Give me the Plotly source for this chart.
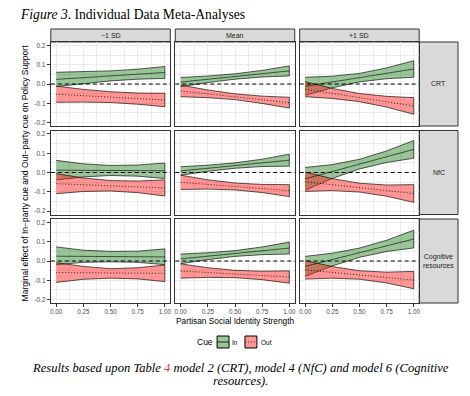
import plotly.graph_objects as go

# The page body has an 8px margin, so the figure is drawn 8px in from the window corner.
OX, OY = 8, 8
W, H = 454, 380

# ---------------- data ----------------
x_vals = [0.0, 0.25, 0.5, 0.75, 1.0]
x_ticks = [0.0, 0.25, 0.5, 0.75, 1.0]
x_tick_labels = ["0.00", "0.25", "0.50", "0.75", "1.00"]
y_ticks = [-0.2, -0.1, 0.0, 0.1, 0.2]
y_tick_labels = ["-0.2", "-0.1", "0.0", "0.1", "0.2"]
levels = ["\u22121 SD", "Mean", "+1 SD"]
moderators = ["CRT", "NfC", "Cognitive<br>resources"]
cues = ["In", "Out"]

# CRT (one list per level: -1 SD, Mean, +1 SD)
crt_in_mean = [[0.024, 0.033, 0.042, 0.051, 0.060],
               [0.010, 0.0245, 0.039, 0.0535, 0.068],
               [-0.012, 0.0105, 0.033, 0.0555, 0.078]]
crt_in_lo = [[-0.013, 0.003, 0.016, 0.025, 0.029],
             [-0.014, 0.0075, 0.025, 0.0365, 0.042],
             [-0.059, -0.0195, 0.011, 0.0275, 0.035]]
crt_in_hi = [[0.061, 0.063, 0.068, 0.077, 0.091],
             [0.034, 0.0415, 0.053, 0.0705, 0.094],
             [0.035, 0.0405, 0.055, 0.0835, 0.121]]
crt_out_mean = [[-0.053, -0.0605, -0.068, -0.0755, -0.083],
                [-0.036, -0.051, -0.066, -0.082, -0.097],
                [-0.027, -0.049, -0.0705, -0.092, -0.114]]
crt_out_lo = [[-0.095, -0.094, -0.096, -0.105, -0.118],
              [-0.066, -0.071, -0.081, -0.101, -0.125],
              [-0.066, -0.075, -0.0915, -0.120, -0.157]]
crt_out_hi = [[-0.011, -0.028, -0.040, -0.047, -0.048],
              [-0.006, -0.031, -0.051, -0.063, -0.069],
              [0.012, -0.023, -0.0495, -0.064, -0.071]]

# NfC
nfc_in_mean = [[0.012, 0.011, 0.0105, 0.010, 0.009],
               [0.008, 0.022, 0.036, 0.050, 0.064],
               [-0.033, 0.005, 0.0435, 0.082, 0.120]]
nfc_in_lo = [[-0.039, -0.023, -0.0155, -0.019, -0.031],
             [-0.014, 0.006, 0.022, 0.031, 0.033],
             [-0.092, -0.031, 0.0185, 0.052, 0.074]]
nfc_in_hi = [[0.063, 0.045, 0.0365, 0.039, 0.049],
             [0.030, 0.038, 0.050, 0.069, 0.095],
             [0.026, 0.041, 0.0685, 0.112, 0.166]]
nfc_out_mean = [[-0.058, -0.0635, -0.069, -0.0745, -0.080],
                [-0.051, -0.062, -0.0725, -0.083, -0.094],
                [-0.048, -0.063, -0.0785, -0.094, -0.109]]
nfc_out_lo = [[-0.110, -0.0985, -0.096, -0.1045, -0.122],
              [-0.088, -0.086, -0.0905, -0.104, -0.125],
              [-0.098, -0.094, -0.1015, -0.123, -0.155]]
nfc_out_hi = [[-0.006, -0.0285, -0.042, -0.0445, -0.038],
              [-0.014, -0.038, -0.0545, -0.062, -0.063],
              [0.002, -0.032, -0.0555, -0.065, -0.063]]

# Cognitive resources
cog_in_mean = [[0.025, 0.024, 0.023, 0.022, 0.021],
               [0.011, 0.025, 0.039, 0.053, 0.067],
               [-0.028, 0.0075, 0.043, 0.0785, 0.114]]
cog_in_lo = [[-0.019, -0.007, -0.004, -0.007, -0.019],
             [-0.014, 0.007, 0.024, 0.033, 0.036],
             [-0.080, -0.0255, 0.019, 0.0495, 0.068]]
cog_in_hi = [[0.073, 0.056, 0.050, 0.051, 0.063],
             [0.036, 0.043, 0.054, 0.073, 0.098],
             [0.024, 0.0405, 0.067, 0.1075, 0.160]]
cog_out_mean = [[-0.060, -0.061, -0.062, -0.063, -0.064],
                [-0.052, -0.0598, -0.0675, -0.0753, -0.083],
                [-0.046, -0.059, -0.0725, -0.086, -0.099]]
cog_out_lo = [[-0.111, -0.095, -0.089, -0.093, -0.107],
              [-0.089, -0.085, -0.0865, -0.097, -0.115],
              [-0.094, -0.089, -0.0945, -0.114, -0.144]]
cog_out_hi = [[-0.009, -0.028, -0.040, -0.035, -0.021],
              [-0.015, -0.035, -0.0485, -0.053, -0.051],
              [0.002, -0.029, -0.0505, -0.058, -0.054]]

panel_data = [
    (crt_in_mean, crt_in_lo, crt_in_hi, crt_out_mean, crt_out_lo, crt_out_hi),
    (nfc_in_mean, nfc_in_lo, nfc_in_hi, nfc_out_mean, nfc_out_lo, nfc_out_hi),
    (cog_in_mean, cog_in_lo, cog_in_hi, cog_out_mean, cog_out_lo, cog_out_hi),
]

# ---------------- styling ----------------
GREEN_FILL = "rgba(0,110,0,0.40)"
RED_FILL = "rgba(255,20,20,0.45)"
EDGE = "rgba(0,0,0,0.8)"
BORDER = "#333333"
STRIP = "#D9D9D9"
GRID = "#EBEBEB"
SANS = "Liberation Sans, Arial, sans-serif"
SERIF = "Liberation Serif, Times New Roman, serif"
DOTTED = "1px,2px"
ZERO_DASH = "4px,3px"

# positions in window pixels
col_px = [(50, 170), (175, 295), (300, 420)]
row_px = [(42, 126), (130.5, 214.5), (219, 303)]


def px(x):
    return (x - OX) / W


def py(y):
    return 1 - (y - OY) / H


fig = go.Figure()
layout_axes = {}
shapes = []
annotations = []

for r in range(3):
    for c in range(3):
        n = r * 3 + c + 1
        xa = "x" if n == 1 else f"x{n}"
        ya = "y" if n == 1 else f"y{n}"
        in_m, in_lo, in_hi, out_m, out_lo, out_hi = panel_data[r]
        # ribbons
        for lo, hi, fillc in ((in_lo[c], in_hi[c], GREEN_FILL), (out_lo[c], out_hi[c], RED_FILL)):
            fig.add_trace(go.Scatter(
                x=x_vals + x_vals[::-1], y=hi + lo[::-1],
                fill="toself", fillcolor=fillc, mode="lines",
                line=dict(color=EDGE, width=0.8),
                xaxis=xa, yaxis=ya, showlegend=False, hoverinfo="skip"))
        fig.add_trace(go.Scatter(
            x=x_vals, y=in_m[c], mode="lines",
            line=dict(color="rgba(0,0,0,0.75)", width=0.8),
            xaxis=xa, yaxis=ya, showlegend=False))
        fig.add_trace(go.Scatter(
            x=x_vals, y=out_m[c], mode="lines",
            line=dict(color="rgba(0,0,0,0.8)", width=1, dash=DOTTED),
            xaxis=xa, yaxis=ya, showlegend=False))

        x0, x1 = col_px[c]
        y0, y1 = row_px[r]
        xkey = "xaxis" if n == 1 else f"xaxis{n}"
        ykey = "yaxis" if n == 1 else f"yaxis{n}"
        layout_axes[xkey] = dict(
            domain=[px(x0), px(x1)], anchor=ya, range=[-0.05, 1.05],
            tickvals=x_ticks, ticktext=x_tick_labels,
            showticklabels=(r == 2), ticks="outside" if r == 2 else "",
            ticklen=2.5, tickcolor=BORDER, tickwidth=1,
            tickfont=dict(family=SANS, size=6.3, color="#4D4D4D"),
            showgrid=True, gridcolor=GRID, gridwidth=1, zeroline=False,
            showline=True, mirror=True, linecolor=BORDER, linewidth=1,
            minor=dict(tick0=0, dtick=0.125, showgrid=True, gridcolor=GRID, gridwidth=0.5),
        )
        layout_axes[ykey] = dict(
            domain=[py(y1), py(y0)], anchor=xa, range=[-0.218, 0.218],
            tickvals=y_ticks, ticktext=y_tick_labels,
            showticklabels=(c == 0), ticks="outside" if c == 0 else "",
            ticklen=3, tickcolor=BORDER, tickwidth=1,
            tickfont=dict(family=SANS, size=6.5, color="#4D4D4D"),
            showgrid=True, gridcolor=GRID, gridwidth=1, zeroline=False,
            showline=True, mirror=True, linecolor=BORDER, linewidth=1,
            minor=dict(tick0=0, dtick=0.05, showgrid=True, gridcolor=GRID, gridwidth=0.5),
        )
        # dashed zero line
        shapes.append(dict(type="line", xref=f"{xa} domain", yref=ya,
                           x0=0, x1=1, y0=0, y1=0,
                           line=dict(color="black", width=1, dash=ZERO_DASH)))

# top strips
for c in range(3):
    x0, x1 = col_px[c]
    shapes.append(dict(type="rect", xref="paper", yref="paper",
                       x0=px(x0), x1=px(x1), y0=py(42), y1=py(29),
                       fillcolor=STRIP, line=dict(color=BORDER, width=1), layer="below"))
    annotations.append(dict(text=levels[c], xref="paper", yref="paper",
                            x=px((x0 + x1) / 2), y=py(35.5), showarrow=False,
                            font=dict(family=SANS, size=7, color="#1A1A1A"),
                            xanchor="center", yanchor="middle"))
# right strips
for r in range(3):
    y0, y1 = row_px[r]
    shapes.append(dict(type="rect", xref="paper", yref="paper",
                       x0=px(420), x1=px(459), y0=py(y1), y1=py(y0),
                       fillcolor=STRIP, line=dict(color=BORDER, width=1), layer="below"))
    annotations.append(dict(text=moderators[r], xref="paper", yref="paper",
                            x=px(439.5), y=py((y0 + y1) / 2), showarrow=False,
                            font=dict(family=SANS, size=7, color="#1A1A1A"),
                            xanchor="center", yanchor="middle"))

# axis titles
annotations.append(dict(text="Partisan Social Identity Strength", xref="paper", yref="paper",
                        x=px(235), y=py(320.5), showarrow=False,
                        font=dict(family=SANS, size=8.3, color="black"),
                        xanchor="center", yanchor="middle"))
annotations.append(dict(text="Marginal effect of In\u2212party cue and Out\u2212party cue on Policy Support",
                        xref="paper", yref="paper", x=px(25), y=py(172.5), textangle=-90,
                        showarrow=False, font=dict(family=SANS, size=8.5, color="black"),
                        xanchor="center", yanchor="middle"))

# legend (manual)
leg_y = 342
annotations.append(dict(text="Cue", xref="paper", yref="paper", x=px(205), y=py(leg_y),
                        showarrow=False, font=dict(family=SANS, size=8.5, color="black"),
                        xanchor="center", yanchor="middle"))
for (bx, fillc, dash, lab, lx) in ((217, GREEN_FILL, "solid", "In", 235),
                                   (245, RED_FILL, DOTTED, "Out", 267)):
    shapes.append(dict(type="rect", xref="paper", yref="paper",
                       x0=px(bx), x1=px(bx + 12), y0=py(leg_y + 6), y1=py(leg_y - 6),
                       fillcolor=fillc, line=dict(color="black", width=1)))
    shapes.append(dict(type="line", xref="paper", yref="paper",
                       x0=px(bx), x1=px(bx + 12), y0=py(leg_y), y1=py(leg_y),
                       line=dict(color="black", width=0.8, dash=dash)))
    annotations.append(dict(text=lab, xref="paper", yref="paper", x=px(lx), y=py(leg_y),
                            showarrow=False, font=dict(family=SANS, size=6.5, color="black"),
                            xanchor="center", yanchor="middle"))

# title and caption
annotations.append(dict(text="<i>Figure 3</i>. Individual Data Meta-Analyses",
                        xref="paper", yref="paper", x=px(17), y=py(15), showarrow=False,
                        font=dict(family=SERIF, size=13.6, color="black"),
                        xanchor="left", yanchor="middle"))
annotations.append(dict(text="<i>Results based upon Table <span style='color:#E8383D'>4</span> model 2 (CRT), model 4 (NfC) and model 6 (Cognitive</i>",
                        xref="paper", yref="paper", x=px(241), y=py(367.5), showarrow=False,
                        font=dict(family=SERIF, size=12.6, color="black"),
                        xanchor="center", yanchor="middle"))
annotations.append(dict(text="<i>resources).</i>",
                        xref="paper", yref="paper", x=px(241), y=py(381), showarrow=False,
                        font=dict(family=SERIF, size=12.6, color="black"),
                        xanchor="center", yanchor="middle"))

fig.update_layout(
    width=W, height=H, margin=dict(l=0, r=0, t=0, b=0),
    paper_bgcolor="white", plot_bgcolor="white",
    showlegend=False, shapes=shapes, annotations=annotations,
    **layout_axes,
)

fig.write_html("out.html")
